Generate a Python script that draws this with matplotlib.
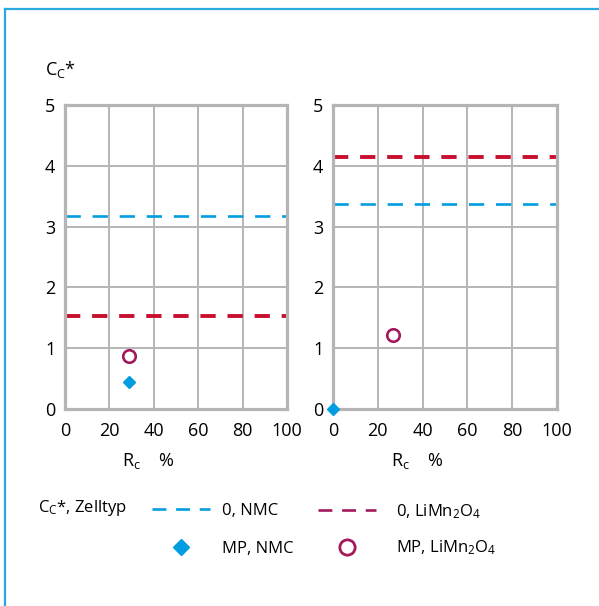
import matplotlib
matplotlib.use("Agg")
import matplotlib.pyplot as plt
from matplotlib.lines import Line2D

plt.rcParams['font.family'] = ['Open Sans', 'DejaVu Sans']
plt.rcParams['mathtext.fontset'] = 'custom'
plt.rcParams['mathtext.rm'] = 'Open Sans'
plt.rcParams['mathtext.it'] = 'Open Sans:italic'
plt.rcParams['lines.scale_dashes'] = False

# achsen
rc_ticks = [0, 20, 40, 60, 80, 100]
cc_ticks = [0, 1, 2, 3, 4, 5]

# je Panel (links, rechts): C_C* ohne Vorbelastung (0) und Messpunkte (MP)
ref_nmc = [3.17, 3.37]
ref_lmo = [1.53, 4.14]
mp_nmc_rc = [29, 0]
mp_nmc_cc = [0.44, 0.0]
mp_lmo_rc = [29, 27]
mp_lmo_cc = [0.87, 1.22]

blue = '#009ee0'
red = '#c8102e'
purple = '#a3195b'
grey = '#b5b5b5'
frame_blue = '#2aa9e0'

W, H = 599, 606
fig = plt.figure(figsize=(W / 100, H / 100), dpi=100)

def px(x0, y0, x1, y1):
    return [x0 / W, 1 - y1 / H, (x1 - x0) / W, (y1 - y0) / H]

ax_l = fig.add_axes(px(65, 105, 287, 409))
ax_r = fig.add_axes(px(333, 105, 557, 409))

for i, ax in enumerate([ax_l, ax_r]):
    ax.set_xlim(rc_ticks[0], rc_ticks[-1])
    ax.set_ylim(cc_ticks[0], cc_ticks[-1])
    ax.set_xticks(rc_ticks)
    ax.set_yticks(cc_ticks)
    ax.grid(True, color=grey, lw=1.4)
    ax.set_axisbelow(True)
    for s in ax.spines.values():
        s.set_color(grey)
        s.set_linewidth(2.3)
    ax.tick_params(length=0, labelsize=13, colors='black')
    ax.tick_params(axis='x', pad=9)
    ax.tick_params(axis='y', pad=7)

    ax.axhline(ref_nmc[i], color=blue, lw=1.9, dashes=(11, 8.5))
    ax.axhline(ref_lmo[i], color=red, lw=2.8, dashes=(11, 8.5))
    ax.plot(mp_lmo_rc[i], mp_lmo_cc[i], 'o', ms=9, mfc='white', mec=purple,
            mew=1.9, clip_on=False, zorder=5)
    ax.plot(mp_nmc_rc[i], mp_nmc_cc[i], 'D', ms=6, color=blue,
            clip_on=False, zorder=6)

    ax.text(0.375, -0.17, r'R$_\mathregular{c}$    %', transform=ax.transAxes,
            fontsize=13, ha='center', va='center')

fig.text(45 / W, 1 - 75 / H, r'C$_\mathregular{C}$*', fontsize=13)

# legende
fig.text(38 / W, 1 - 512 / H, r'C$_\mathregular{C}$*, Zelltyp', fontsize=12)
leg_opts = dict(loc='upper left', frameon=False, fontsize=12, handlelength=3.5,
                borderpad=0, borderaxespad=0)
leg1 = fig.legend(
    [Line2D([], [], color=blue, lw=1.9, dashes=(10, 7)),
     Line2D([], [], ls='none', marker='D', ms=8, color=blue)],
    ['0, NMC', 'MP, NMC'],
    bbox_to_anchor=(152 / W, 1 - 503 / H), handletextpad=0.7,
    labelspacing=1.33, **leg_opts)
leg2 = fig.legend(
    [Line2D([], [], color=purple, lw=1.9, dashes=(10, 7)),
     Line2D([], [], ls='none', marker='o', ms=11, mfc='white', mec=purple, mew=2)],
    [r'0, LiMn$_\mathregular{2}$O$_\mathregular{4}$',
     r'MP, LiMn$_\mathregular{2}$O$_\mathregular{4}$'],
    bbox_to_anchor=(318 / W, 1 - 502 / H), handletextpad=1.2,
    labelspacing=1.08, **leg_opts)

# rahmen
fig.add_artist(Line2D([5 / W, 5 / W], [0, 1 - 9 / H], color=frame_blue, lw=1.6,
                      transform=fig.transFigure))
fig.add_artist(Line2D([5 / W, 598 / W], [1 - 9 / H, 1 - 9 / H], color=frame_blue,
                      lw=1.6, transform=fig.transFigure))

fig.savefig('out.png', dpi=100)
